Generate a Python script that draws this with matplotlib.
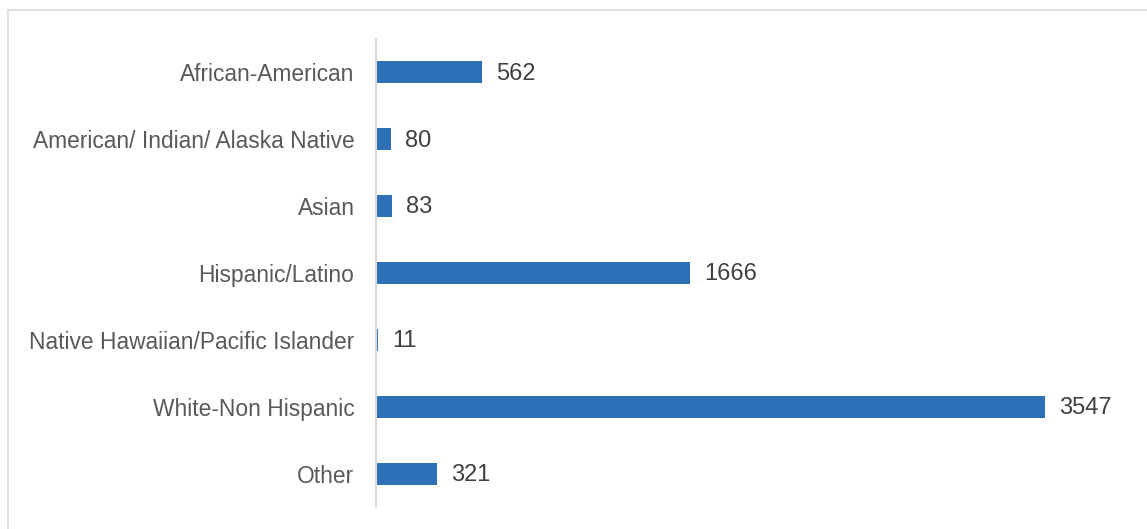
import matplotlib.pyplot as plt
from matplotlib.patches import Rectangle

categories = ['African-American', 'American/ Indian/ Alaska Native', 'Asian',
              'Hispanic/Latino', 'Native Hawaiian/Pacific Islander',
              'White-Non Hispanic', 'Other']
counts = [562, 80, 83, 1666, 11, 3547, 321]

plt.rcParams['font.family'] = ['Liberation Sans', 'DejaVu Sans']

W, H = 1147, 529
fig = plt.figure(figsize=(W / 100, H / 100), dpi=100)

# outer chart border (runs off the right and bottom edges)
fig.patches.append(Rectangle((8 / W, -0.05), 1.2, (H - 10) / H + 0.05,
                             transform=fig.transFigure, fill=False,
                             edgecolor='#d9d9d9', linewidth=1.2))

ax = fig.add_axes([376 / W, 1 - 507 / H, (1130 - 376) / W, (507 - 39) / H])
y = list(range(len(categories)))
ax.barh(y, counts, height=0.33, color='#2e70b8')
ax.set_ylim(6.5, -0.5)
ax.set_xlim(0, 4000)

for yi, v in zip(y, counts):
    ax.text(v + 75, yi + 0.02, str(v), va='center', ha='left', fontsize=17,
            color='#404040')

ax.set_yticks(y)
ax.set_yticklabels(categories, fontsize=16.4, color='#595959')
ax.tick_params(axis='y', length=0, pad=15.5)
ax.set_xticks([])
for s in ['top', 'right', 'bottom']:
    ax.spines[s].set_visible(False)
ax.spines['left'].set_color('#d9d9d9')
ax.spines['left'].set_linewidth(1.5)

fig.savefig('out.png', dpi=100)
